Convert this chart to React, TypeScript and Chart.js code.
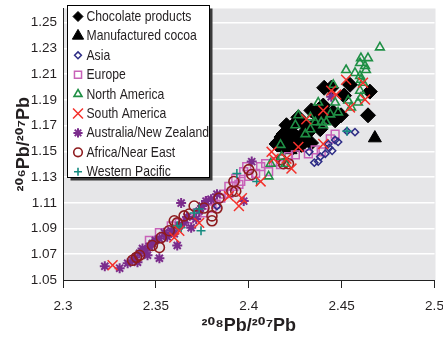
import React, { useEffect, useRef } from 'react';
import { Chart, registerables } from 'chart.js';

Chart.register(...registerables);

const FONT = '"Liberation Sans", Arial, "DejaVu Sans", sans-serif';

// ---- data ----
const seriesNames = [
  'Chocolate products',
  'Manufactured cocoa',
  'Asia',
  'Europe',
  'North America',
  'South America',
  'Australia/New Zealand',
  'Africa/Near East',
  'Western Pacific',
];

const chocolate: number[][] = [
  [2.4406, 1.1994], [2.4444, 1.1994], [2.4545, 1.2017], [2.4652, 1.1964], [2.4513, 1.1933],
  [2.4401, 1.1856], [2.4455, 1.1803], [2.4497, 1.178], [2.4642, 1.178], [2.4337, 1.1818],
  [2.439, 1.1841], [2.4267, 1.1764], [2.4374, 1.1726], [2.4203, 1.1703], [2.4305, 1.1703],
  [2.4187, 1.1634], [2.4257, 1.1611], [2.4225, 1.1588], [2.416, 1.1573], [2.4241, 1.1534],
  [2.4283, 1.155], [2.4385, 1.1672], [2.4321, 1.1649], [2.4176, 1.1611], [2.415, 1.1557],
  [2.4428, 1.1764], [2.4364, 1.1787], [2.4465, 1.1741], [2.4214, 1.1665], [2.4235, 1.1695],
  [2.4285, 1.1625], [2.4345, 1.1695], [2.4195, 1.1535], [2.4335, 1.1565], [2.4415, 1.1805],
];

const cocoa: number[][] = [
  [2.4225, 1.1511], [2.4267, 1.1527], [2.4321, 1.1588], [2.4187, 1.1527], [2.4679, 1.1603],
  [2.4245, 1.1575],
];

const asia: number[][] = [
  [2.4353, 1.1412], [2.4412, 1.1481], [2.4449, 1.1504], [2.4428, 1.1557], [2.4529, 1.1657],
  [2.4572, 1.1649], [2.4465, 1.1588], [2.4385, 1.1458], [2.4374, 1.142], [2.4481, 1.1573],
  [2.4326, 1.1496], [2.4433, 1.1527], [2.3829, 1.1075],
];

const europe: number[][] = [
  [2.3465, 1.0807], [2.3519, 1.0868], [2.3583, 1.0921], [2.3626, 1.0944], [2.3679, 1.0975],
  [2.3722, 1.1021], [2.3759, 1.1021], [2.3802, 1.1059], [2.3824, 1.109], [2.385, 1.1136],
  [2.3866, 1.1167], [2.3893, 1.1174], [2.3893, 1.1228], [2.392, 1.1228], [2.393, 1.1289],
  [2.3947, 1.1243], [2.3957, 1.1266], [2.3973, 1.1343], [2.3989, 1.1381], [2.4, 1.1305],
  [2.4037, 1.1328], [2.4064, 1.1381], [2.4091, 1.1404], [2.4144, 1.142], [2.4171, 1.1397],
  [2.4214, 1.1458], [2.4251, 1.1473], [2.4321, 1.1481], [2.4358, 1.1511], [2.439, 1.1496],
  [2.4439, 1.1596], [2.4465, 1.1634], [2.4107, 1.1343], [2.3786, 1.1113],
];

const northAmerica: number[][] = [
  [2.4706, 1.2308], [2.4604, 1.2224], [2.4642, 1.2224], [2.4599, 1.2186], [2.4626, 1.2163],
  [2.4631, 1.2132], [2.4524, 1.2132], [2.4572, 1.2109], [2.4599, 1.2086], [2.4604, 1.2056],
  [2.4455, 1.2017], [2.4599, 1.1971], [2.4604, 1.1918], [2.4588, 1.1879], [2.4551, 1.1841],
  [2.4535, 1.1895], [2.439, 1.1726], [2.4465, 1.1879], [2.4417, 1.1726], [2.4358, 1.1726],
  [2.4332, 1.1672], [2.4305, 1.1634], [2.4332, 1.1764], [2.4198, 1.1404], [2.4118, 1.1404],
  [2.4107, 1.1305], [2.4171, 1.155], [2.4251, 1.1703], [2.4267, 1.178], [2.4374, 1.1879],
  [2.4401, 1.1703], [2.4176, 1.1458], [2.4615, 1.2033], [2.4481, 1.1803], [2.4439, 1.1787],
];

const southAmerica: number[][] = [
  [2.3267, 1.0615], [2.3599, 1.083], [2.3626, 1.0883], [2.3733, 1.0944], [2.3947, 1.1075],
  [2.3963, 1.1136], [2.4064, 1.1266], [2.4123, 1.1496], [2.4134, 1.1443], [2.4203, 1.1443],
  [2.423, 1.1366], [2.4267, 1.1534], [2.431, 1.1749], [2.4401, 1.1818], [2.4444, 1.1971],
  [2.4524, 1.2056], [2.4615, 1.2033], [2.4471, 1.1941], [2.4626, 1.1902], [2.4545, 1.1841],
  [2.4401, 1.1557], [2.3893, 1.1151],
];

const australia: number[][] = [
  [2.3225, 1.0607], [2.3305, 1.0592], [2.3348, 1.063], [2.3374, 1.0653], [2.339, 1.0676],
  [2.3412, 1.0707], [2.3428, 1.0745], [2.3444, 1.073], [2.3465, 1.0761], [2.3481, 1.0784],
  [2.3497, 1.0807], [2.3519, 1.0822], [2.3519, 1.0669], [2.3545, 1.0868], [2.3561, 1.0837],
  [2.3583, 1.0883], [2.3599, 1.086], [2.3615, 1.0768], [2.3626, 1.0921], [2.3636, 1.1098],
  [2.3652, 1.0944], [2.3668, 1.099], [2.369, 1.0906], [2.3717, 1.0975], [2.3733, 1.1036],
  [2.3749, 1.1075], [2.377, 1.1113], [2.3797, 1.1128], [2.3829, 1.1167], [2.3973, 1.1113],
  [2.4016, 1.142], [2.4444, 1.1925], [2.3401, 1.0638], [2.3455, 1.0692],
];

const africa: number[][] = [
  [2.3374, 1.0653], [2.3396, 1.0676], [2.3412, 1.0692], [2.3481, 1.0768], [2.3519, 1.0753],
  [2.3529, 1.083], [2.3572, 1.0883], [2.3599, 1.096], [2.3615, 1.0944], [2.3652, 1.0998],
  [2.3679, 1.1013], [2.3706, 1.1075], [2.3759, 1.1059], [2.3802, 1.0998], [2.3802, 1.096],
  [2.3829, 1.1059], [2.384, 1.1136], [2.3909, 1.119], [2.392, 1.1266], [2.393, 1.119],
  [2.4, 1.1358], [2.4016, 1.132], [2.4176, 1.1435], [2.4214, 1.1404], [2.4187, 1.1404],
];

const westernPacific: number[][] = [
  [2.3706, 1.1021], [2.3733, 1.1052], [2.3615, 1.0921], [2.3636, 1.0906], [2.3743, 1.0883],
  [2.4043, 1.1266], [2.3936, 1.1328], [2.4529, 1.1657],
];

const xTicks = [2.3, 2.35, 2.4, 2.45, 2.5];
const yTicks = [1.05, 1.07, 1.09, 1.11, 1.13, 1.15, 1.17, 1.19, 1.21, 1.23, 1.25];
const xTitle = '\u00B2\u2070\u2078Pb/\u00B2\u2070\u2077Pb';
const yTitle = '\u00B2\u2070\u2076Pb/\u00B2\u2070\u2077Pb';

// ---- styles ----
const seriesData = [chocolate, cocoa, asia, europe, northAmerica, southAmerica, australia, africa, westernPacific];
const seriesStyles = [
  { style: 'rectRot', r: 7.5, color: '#000000', fill: '#000000', lw: 1, lr: 5, order: 9 },
  { style: 'triangle', r: 7.5, color: '#000000', fill: '#000000', lw: 1, lr: 6.5, order: 8 },
  { style: 'rectRot', r: 3.6, color: '#2e2d86', fill: 'rgba(0,0,0,0)', lw: 1.5, lr: 3.4, order: 6 },
  { style: 'rect', r: 5.5, color: '#c862b8', fill: 'rgba(0,0,0,0)', lw: 1.5, lr: 5, order: 7 },
  { style: 'triangle', r: 5, color: '#1f8f45', fill: 'rgba(0,0,0,0)', lw: 1.6, lr: 4.6, order: 2 },
  { style: 'crossRot', r: 7, color: '#f4302b', fill: 'rgba(0,0,0,0)', lw: 1.5, lr: 7, order: 1 },
  { style: 'star', r: 5, color: '#7b2c8c', fill: 'rgba(0,0,0,0)', lw: 2, lr: 4.6, order: 5 },
  { style: 'circle', r: 5, color: '#8e1b1e', fill: 'rgba(0,0,0,0)', lw: 1.6, lr: 4.3, order: 4 },
  { style: 'cross', r: 4.5, color: '#168b80', fill: 'rgba(0,0,0,0)', lw: 1.6, lr: 4, order: 3 },
];

function drawMarker(ctx: CanvasRenderingContext2D, style: string, x: number, y: number, r: number, color: string, fill: string, lw: number) {
  ctx.save();
  ctx.beginPath();
  ctx.lineWidth = lw;
  ctx.strokeStyle = color;
  ctx.fillStyle = fill;
  let closed = true;
  const d = r * Math.SQRT1_2;
  switch (style) {
    case 'rectRot':
      ctx.moveTo(x, y - r); ctx.lineTo(x + r, y); ctx.lineTo(x, y + r); ctx.lineTo(x - r, y); ctx.closePath();
      break;
    case 'triangle':
      ctx.moveTo(x, y - r); ctx.lineTo(x + r * 0.866, y + r * 0.5); ctx.lineTo(x - r * 0.866, y + r * 0.5); ctx.closePath();
      break;
    case 'rect':
      ctx.rect(x - d, y - d, 2 * d, 2 * d);
      break;
    case 'circle':
      ctx.arc(x, y, r, 0, Math.PI * 2);
      break;
    case 'cross':
      closed = false;
      ctx.moveTo(x, y - r); ctx.lineTo(x, y + r); ctx.moveTo(x - r, y); ctx.lineTo(x + r, y);
      break;
    case 'crossRot':
      closed = false;
      ctx.moveTo(x - d, y - d); ctx.lineTo(x + d, y + d); ctx.moveTo(x + d, y - d); ctx.lineTo(x - d, y + d);
      break;
    case 'star':
      closed = false;
      ctx.moveTo(x, y - r); ctx.lineTo(x, y + r); ctx.moveTo(x - r, y); ctx.lineTo(x + r, y);
      ctx.moveTo(x - d, y - d); ctx.lineTo(x + d, y + d); ctx.moveTo(x + d, y - d); ctx.lineTo(x - d, y + d);
      break;
  }
  if (closed) ctx.fill();
  ctx.stroke();
  ctx.restore();
}

const plotBg = {
  id: 'plotBg',
  beforeDraw(chart: any) {
    const { ctx, chartArea: a } = chart;
    ctx.save();
    ctx.fillStyle = '#e6e6e8';
    ctx.fillRect(a.left, a.top, a.right - a.left + 1, a.bottom - a.top);
    ctx.restore();
  },
};

const boxLegend = {
  id: 'boxLegend',
  afterDraw(chart: any) {
    const { ctx } = chart;
    const left = 67.5;
    const top = 5.5;
    const w = 142;
    const h = 172;
    ctx.save();
    ctx.fillStyle = '#3a3a3a';
    ctx.fillRect(left + 3, top + 3, w, h);
    ctx.fillStyle = '#ffffff';
    ctx.fillRect(left, top, w, h);
    ctx.strokeStyle = '#000000';
    ctx.lineWidth = 1;
    ctx.strokeRect(left, top, w, h);
    chart.data.datasets.forEach((ds: any, i: number) => {
      const s = seriesStyles[i];
      const cy = top + 11 + i * 19.4;
      drawMarker(ctx, s.style, left + 10.5, cy, s.lr, s.color, s.fill, s.lw);
      ctx.save();
      ctx.translate(left + 19, cy + 0.5);
      ctx.scale(0.84, 1);
      ctx.font = '14.5px ' + FONT;
      ctx.textBaseline = 'middle';
      ctx.textAlign = 'left';
      ctx.fillStyle = '#231f20';
      ctx.fillText(ds.label, 0, 0);
      ctx.restore();
    });
    ctx.restore();
  },
};

export default function App() {
  const ref = useRef<HTMLCanvasElement | null>(null);

  useEffect(() => {
    if (!ref.current) return;
    const datasets = seriesData.map((arr, i) => {
      const s = seriesStyles[i];
      return {
        label: seriesNames[i],
        data: arr.map(([x, y]) => ({ x, y })),
        pointStyle: s.style,
        pointRadius: s.r,
        pointBorderColor: s.color,
        pointBackgroundColor: s.fill,
        pointBorderWidth: s.lw,
        borderColor: s.color,
        backgroundColor: s.fill,
        order: s.order,
        showLine: false,
      };
    });

    const chart = new Chart(ref.current, {
      type: 'scatter',
      data: { datasets } as any,
      options: {
        animation: false,
        responsive: false,
        devicePixelRatio: 1,
        events: [],
        layout: { padding: { top: 5, right: 6, left: 0, bottom: 0 } },
        plugins: {
          legend: { display: false },
          tooltip: { enabled: false },
        },
        scales: {
          x: {
            type: 'linear',
            min: xTicks[0],
            max: xTicks[xTicks.length - 1],
            afterBuildTicks: (scale: any) => {
              scale.ticks = xTicks.map((v) => ({ value: v }));
            },
            afterFit: (scale: any) => {
              scale.height = 57;
              scale.paddingLeft = 0;
              scale.paddingRight = 0;
            },
            ticks: {
              font: { family: FONT, size: 13.5 },
              color: '#231f20',
              padding: 10,
              callback: (v: any) => String(Number(v)),
            },
            grid: {
              drawOnChartArea: false,
              drawTicks: true,
              tickLength: 8,
              color: '#222222',
              lineWidth: 1,
            },
            border: { display: true, color: '#222222', width: 1 },
            title: {
              display: true,
              text: xTitle,
              font: { family: FONT, size: 18, weight: 'bold', lineHeight: 1 },
              color: '#231f20',
              padding: { top: 0, bottom: 2 },
            },
          },
          y: {
            type: 'linear',
            min: 1.05,
            max: 1.261,
            afterBuildTicks: (scale: any) => {
              scale.ticks = yTicks.map((v) => ({ value: v }));
            },
            afterFit: (scale: any) => {
              scale.width = 63;
              scale.paddingTop = 0;
              scale.paddingBottom = 0;
            },
            ticks: {
              font: { family: FONT, size: 13.5 },
              color: '#231f20',
              padding: 6,
              callback: (v: any) => Number(v).toFixed(2),
            },
            grid: {
              drawTicks: false,
              color: (c: any) => (c.tick && Math.abs(c.tick.value - 1.05) < 1e-6 ? 'rgba(0,0,0,0)' : '#ffffff'),
              lineWidth: 1.6,
            },
            border: { display: true, color: '#222222', width: 1 },
            title: {
              display: true,
              text: yTitle,
              font: { family: FONT, size: 18, weight: 'bold', lineHeight: 1 },
              color: '#231f20',
              padding: { top: 15, bottom: 0 },
            },
          },
        },
      } as any,
      plugins: [plotBg, boxLegend],
    });
    return () => chart.destroy();
  }, []);

  return (
    <div style={{ position: 'fixed', left: 0, top: 0, width: 443, height: 337, background: '#ffffff' }}>
      <canvas ref={ref} width={443} height={337} style={{ display: 'block' }} />
    </div>
  );
}
